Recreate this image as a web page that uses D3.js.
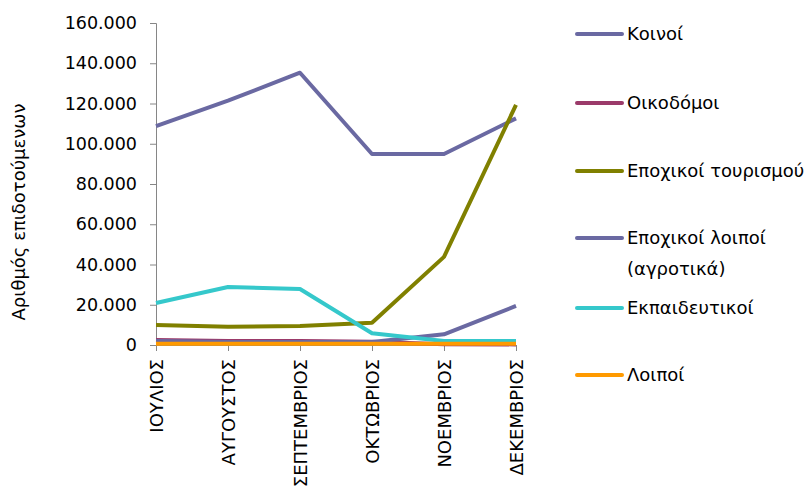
<!DOCTYPE html>
<html><head><meta charset="utf-8">
<script src="https://cdn.jsdelivr.net/npm/d3@7/dist/d3.min.js"></script>
<style>body{margin:0;background:#fff;}svg{display:block;font-family:"DejaVu Sans",sans-serif;}</style>
</head><body>
<svg id="chart" width="812" height="491"></svg>
<script>
const months = ["ΙΟΥΛΙΟΣ","ΑΥΓΟΥΣΤΟΣ","ΣΕΠΤΕΜΒΡΙΟΣ","ΟΚΤΩΒΡΙΟΣ","ΝΟΕΜΒΡΙΟΣ","ΔΕΚΕΜΒΡΙΟΣ"];
const seriesNames = ["Κοινοί","Οικοδόμοι","Εποχικοί τουρισμού","Εποχικοί λοιποί (αγροτικά)","Εκπαιδευτικοί","Λοιποί"];
const koinoi = [108800,121400,135300,94900,94900,112600];
const oikodomoi = [2500,2000,2000,1600,400,300];
const tourismou = [9900,9100,9400,11100,43800,119300];
const agrotika = [2000,1500,1500,1500,5300,19400];
const ekpaideftikoi = [20900,28800,27800,5800,2000,2000];
const loipoi = [600,600,600,600,600,600];
const yTicks = [0,20000,40000,60000,80000,100000,120000,140000,160000];
const colors = ["#6A69A2","#9B3A6A","#808000","#6A69A2","#35C8CB","#FF9A00"];

const values = [koinoi,oikodomoi,tourismou,agrotika,ekpaideftikoi,loipoi];
const svg = d3.select("#chart");
const mLeft = 156, mRight = 516, mTop = 23, mBottom = 345;
const x = d3.scalePoint().domain(months).range([mLeft,mRight]);
const y = d3.scaleLinear().domain([0,160000]).range([mBottom,mTop]);
const fmt = v => d3.format(",.0f")(v).replace(/,/g,".");

// y axis
const ya = svg.append("g").attr("transform",`translate(${mLeft},0)`)
  .call(d3.axisLeft(y).tickValues(yTicks).tickFormat(fmt).tickSize(6).tickPadding(13));
ya.select(".domain").attr("stroke","#868686");
ya.selectAll(".tick line").attr("stroke","#868686");
ya.selectAll(".tick text").attr("fill","#000").style("font-size","17.5px").style("font-family","DejaVu Sans");

// x axis
const xa = svg.append("g").attr("transform",`translate(0,${mBottom})`)
  .call(d3.axisBottom(x).tickSize(6).tickSizeOuter(0));
xa.select(".domain").attr("stroke","#868686");
xa.selectAll(".tick line").attr("stroke","#868686");
xa.selectAll(".tick text").attr("fill","#000").style("font-size","18px").style("font-family","DejaVu Sans")
  .attr("transform","rotate(-90)").attr("text-anchor","end").attr("x",-14).attr("y",0).attr("dy","0.35em");

// y title
svg.append("text").attr("transform","translate(25,212) rotate(-90)")
  .attr("text-anchor","middle").style("font-size","18px").attr("fill","#000")
  .text("Αριθμός επιδοτούμενων");

// lines
const line = d3.line().x((d,i)=>x(months[i])).y(d=>y(d));
values.forEach((vals,i)=>{
  svg.append("path").datum(vals).attr("d",line).attr("fill","none")
    .attr("stroke",colors[i]).attr("stroke-width",4).attr("stroke-linejoin","round");
});

// legend
const legY = [34,103,171,238,308,375];
const leg = svg.append("g");
seriesNames.forEach((n,i)=>{
  leg.append("line").attr("x1",577).attr("x2",622).attr("y1",legY[i]).attr("y2",legY[i])
    .attr("stroke",colors[i]).attr("stroke-width",4).attr("stroke-linecap","round");
  const t = leg.append("text").attr("x",627).attr("y",legY[i]).attr("dy","0.35em")
    .style("font-size","18px").attr("fill","#000");
  if(i===3){
    t.append("tspan").attr("x",627).text("Εποχικοί λοιποί");
    t.append("tspan").attr("x",627).attr("dy","1.72em").text("(αγροτικά)");
  } else t.text(n);
});
</script>
</body></html>
